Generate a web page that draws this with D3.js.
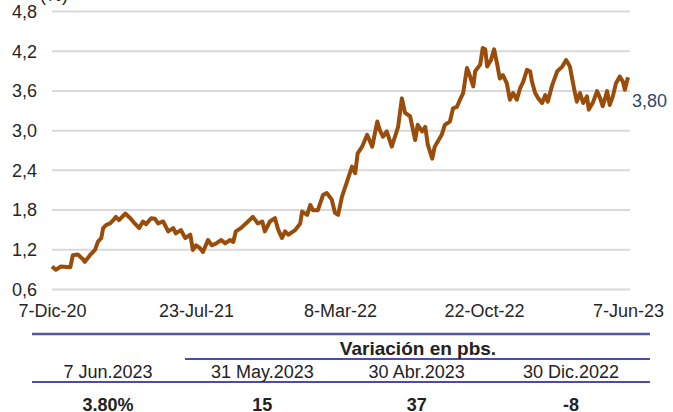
<!DOCTYPE html>
<html>
<head>
<meta charset="utf-8">
<script src="https://cdn.jsdelivr.net/npm/d3@7"></script>
<style>
	body { margin: 0; background: #fff; }
	svg { display: block; font-family: "Liberation Sans", Arial, sans-serif; }
</style>
</head>
<body>
<svg id="chart" width="673" height="412"></svg>
<script>
// days after 7-Dic-20, and yield (%)
const dayOffsets = [0, 6, 14, 29, 33, 41, 49, 52, 60, 68, 73, 78, 81, 86, 92, 97, 101, 106, 116, 124,
	131, 138, 144, 149, 157, 163, 168, 176, 184, 192, 196, 204, 211, 219, 223, 228, 234, 239, 247, 253,
	260, 268, 274, 282, 287, 291, 299, 307, 318, 326, 333, 337, 345, 353, 358, 364, 369, 374, 385, 393,
	396, 404, 409, 413, 421, 429, 435, 443, 448, 453, 459, 467, 475, 480, 484, 491, 499, 507, 515, 519,
	524, 530, 538, 543, 548, 554, 559, 567, 575, 579, 586, 591, 595, 602, 606, 617, 622, 630, 635, 641,
	646, 651, 657, 662, 667, 670, 678, 682, 686, 689, 695, 700, 705, 709, 714, 720, 725, 730, 736, 741,
	746, 752, 757, 760, 765, 770, 776, 781, 785, 792, 800, 808, 814, 820, 827, 831, 836, 841, 847, 850,
	857, 863, 868, 872, 879, 883, 888, 893, 899, 904, 907, 912];
const yields = [0.94, 0.89, 0.94, 0.93, 1.11, 1.12, 1.05, 1.01, 1.11, 1.19, 1.32, 1.37, 1.52, 1.57, 1.59, 1.64, 1.69, 1.64, 1.74, 1.67,
	1.59, 1.52, 1.62, 1.58, 1.67, 1.66, 1.59, 1.62, 1.47, 1.52, 1.44, 1.49, 1.37, 1.42, 1.19, 1.26, 1.22, 1.16, 1.34, 1.26,
	1.29, 1.34, 1.29, 1.34, 1.31, 1.47, 1.52, 1.59, 1.69, 1.59, 1.62, 1.47, 1.62, 1.67, 1.50, 1.37, 1.47, 1.42, 1.49, 1.59,
	1.77, 1.72, 1.87, 1.79, 1.79, 2.02, 2.05, 1.95, 1.75, 1.72, 1.99, 2.22, 2.45, 2.35, 2.65, 2.75, 2.93, 2.75, 3.13, 3.00,
	2.90, 2.98, 2.75, 2.90, 3.05, 3.48, 3.26, 3.21, 2.85, 3.08, 2.98, 3.05, 2.78, 2.57, 2.75, 2.93, 3.08, 3.13, 3.33, 3.35,
	3.46, 3.56, 3.94, 3.81, 3.66, 3.89, 3.99, 4.24, 4.22, 3.96, 4.06, 4.22, 3.99, 3.78, 3.83, 3.71, 3.46, 3.56, 3.46, 3.63,
	3.73, 3.91, 3.89, 3.73, 3.56, 3.48, 3.41, 3.53, 3.43, 3.68, 3.89, 3.96, 4.06, 3.96, 3.61, 3.43, 3.56, 3.41, 3.51, 3.31,
	3.43, 3.59, 3.48, 3.36, 3.59, 3.38, 3.51, 3.71, 3.81, 3.73, 3.61, 3.80];

const startDate = new Date(2020, 11, 7);
const tickDates = [new Date(2020, 11, 7), new Date(2021, 6, 23), new Date(2022, 2, 8), new Date(2022, 9, 22), new Date(2023, 5, 7)];
const tickLabels = ["7-Dic-20", "23-Jul-21", "8-Mar-22", "22-Oct-22", "7-Jun-23"];
const yTicks = [0.6, 1.2, 1.8, 2.4, 3.0, 3.6, 4.2, 4.8];
const lastLabel = "3,80";

// summary table
const headerGroup = "Variación en pbs.";
const columnLabels = ["7 Jun.2023", "31 May.2023", "30 Abr.2023", "30 Dic.2022"];
const columnValues = ["3.80%", "15", "37", "-8"];

const svg = d3.select("#chart");
const data = dayOffsets.map((d, i) => ({ date: d3.timeDay.offset(startDate, d), value: yields[i] }));

const x = d3.scaleTime()
	.domain([tickDates[0], tickDates[4]])
	.range([52, 628]);
const y = d3.scaleLinear()
	.domain([0.6, 4.8])
	.range([289, 11]);

// gridlines + y labels
const yAxis = svg.append("g")
	.attr("transform", "translate(52,0)")
	.call(d3.axisLeft(y).tickValues(yTicks).tickSize(-578).tickPadding(15)
		.tickFormat(d => d3.format(".1f")(d).replace(".", ",")));
yAxis.select(".domain").remove();
yAxis.selectAll(".tick line").attr("stroke", "#d9d9d9").attr("stroke-width", 2);
yAxis.selectAll(".tick text").attr("fill", "#262626").style("font-size", "18px").attr("dy", "0.35em");

svg.append("text")
	.attr("x", 40).attr("y", 1)
	.attr("fill", "#262626")
	.style("font-size", "18px")
	.text("(%)");

// x labels
const xAxis = svg.append("g")
	.attr("transform", "translate(0,304)")
	.call(d3.axisBottom(x).tickValues(tickDates).tickSize(0).tickPadding(0)
		.tickFormat((d, i) => tickLabels[i]));
xAxis.select(".domain").remove();
xAxis.selectAll(".tick text").attr("fill", "#262626").style("font-size", "18px").attr("dy", "0.71em");

// series
svg.append("path")
	.datum(data)
	.attr("fill", "none")
	.attr("stroke", "#9a4d0b")
	.attr("stroke-width", 4)
	.attr("stroke-linejoin", "round")
	.attr("d", d3.line().x(d => x(d.date)).y(d => y(d.value)));

svg.append("text")
	.attr("x", 632).attr("y", 107)
	.attr("fill", "#2f4770")
	.style("font-size", "18px")
	.text(lastLabel);

// table
const colX = d3.scalePoint()
	.domain(columnLabels)
	.range([108, 571]);

const rule = "#4a4ab0";
svg.append("line").attr("x1", 32).attr("x2", 650).attr("y1", 334).attr("y2", 334)
	.attr("stroke", "#5656a8").attr("stroke-width", 2.5);
svg.append("line").attr("x1", 185).attr("x2", 650).attr("y1", 359).attr("y2", 359)
	.attr("stroke", rule).attr("stroke-width", 2);
svg.append("line").attr("x1", 32).attr("x2", 650).attr("y1", 382).attr("y2", 382)
	.attr("stroke", rule).attr("stroke-width", 2);

svg.append("text")
	.attr("x", 418).attr("y", 355)
	.attr("text-anchor", "middle")
	.attr("fill", "#222")
	.style("font-size", "19px").style("font-weight", "bold")
	.text(headerGroup);

svg.selectAll(".col-label")
	.data(columnLabels)
	.join("text")
	.attr("class", "col-label")
	.attr("x", d => colX(d))
	.attr("y", 378)
	.attr("text-anchor", "middle")
	.attr("fill", "#222")
	.style("font-size", "18px")
	.text(d => d);

svg.selectAll(".col-value")
	.data(columnValues)
	.join("text")
	.attr("class", "col-value")
	.attr("x", (d, i) => colX(columnLabels[i]))
	.attr("y", 411)
	.attr("text-anchor", "middle")
	.attr("fill", "#222")
	.style("font-size", "18px").style("font-weight", "bold")
	.text(d => d);
</script>
</body>
</html>
